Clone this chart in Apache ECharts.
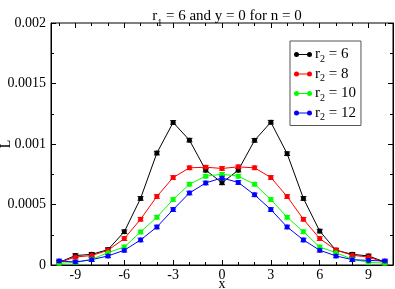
<!DOCTYPE html>
<html><head><meta charset="utf-8">
<script src="https://cdn.jsdelivr.net/npm/echarts@6/dist/echarts.min.js"></script>
<style>html,body{margin:0;padding:0;background:#fff}#c{width:395px;height:289px}</style>
</head><body><div id="c"></div>
<script>
const X = [-10,-9,-8,-7,-6,-5,-4,-3,-2,-1,0,1,2,3,4,5,6,7,8,9,10];
const R2_LABELS = ['6','8','10','12'];
const L_r6  = [0.000022,0.000078,0.000088,0.000127,0.000275,0.00055,0.000925,0.001178,0.001032,0.000784,0.000679,0.000784,0.00103,0.00118,0.00092,0.00055,0.00028,0.000122,0.000088,0.000075,0.000025];
const L_r8  = [0.00002,0.000066,0.000078,0.000122,0.000218,0.000378,0.000566,0.000723,0.000803,0.000808,0.000798,0.000811,0.000803,0.000723,0.000566,0.000378,0.000218,0.000124,0.00008,0.000066,0.00002];
const L_r10 = [0.000015,0.00002,0.000047,0.000102,0.000149,0.000273,0.000395,0.000541,0.000668,0.000734,0.00075,0.000734,0.000668,0.000541,0.000395,0.000275,0.000149,0.000102,0.000047,0.000022,0.000015];
const L_r12 = [0.000033,0.000025,0.000044,0.000075,0.000122,0.000207,0.000314,0.000458,0.000595,0.000678,0.00072,0.000682,0.00058,0.000458,0.000314,0.000207,0.000122,0.000075,0.000044,0.000038,0.000033];
const ERR = 0.000015;
const COLORS = ['#000000','#ff0000','#00ff00','#0000ff'];
const X_MAJOR = [-9,-6,-3,0,3,6,9];
const X_MINOR = X.filter(v => v % 3 !== 0);

const SERIES = [L_r6, L_r8, L_r10, L_r12];
const FONT = '"Liberation Serif", "Times New Roman", serif';
const chart = echarts.init(document.getElementById('c'), null, {renderer:'canvas'});

const legendIcon = 'path://M0,2.5 A2.5,2.5 0 1,1 5,2.5 A2.5,2.5 0 1,1 0,2.5 Z M13,2.5 A2.5,2.5 0 1,1 18,2.5 A2.5,2.5 0 1,1 13,2.5 Z M4,2 L14,2 L14,3 L4,3 Z';

const names = R2_LABELS.map(v => 'r2 = ' + v);
const series = [];
SERIES.forEach((arr, i) => {
  series.push({
    name: names[i], type: 'line', xAxisIndex: 0, yAxisIndex: 0,
    data: X.map((x, j) => [x, arr[j]]),
    symbol: 'circle', symbolSize: 5,
    lineStyle: {color: COLORS[i], width: 1},
    itemStyle: {color: COLORS[i]},
    animation: false, z: 3
  });
  series.push({
    name: names[i] + ' err', type: 'custom', xAxisIndex: 0, yAxisIndex: 0,
    data: X.map((x, j) => [x, arr[j] - ERR, arr[j] + ERR]),
    renderItem: function (params, api) {
      const lo = api.coord([api.value(0), api.value(1)]);
      const hi = api.coord([api.value(0), api.value(2)]);
      const w = 3;
      const st = {stroke: COLORS[i], lineWidth: 1};
      return {type: 'group', children: [
        {type: 'line', shape: {x1: lo[0], y1: lo[1], x2: hi[0], y2: hi[1]}, style: st},
        {type: 'line', shape: {x1: lo[0]-w, y1: lo[1], x2: lo[0]+w, y2: lo[1]}, style: st},
        {type: 'line', shape: {x1: hi[0]-w, y1: hi[1], x2: hi[0]+w, y2: hi[1]}, style: st}
      ]};
    },
    animation: false, z: 2, silent: true
  });
});

const xBase = {type: 'value', min: -10.5, max: 10.5, splitLine: {show: false}, axisLine: {show: false, onZero: false}};
const yBase = {type: 'value', min: 0, max: 0.002, interval: 0.0005, splitLine: {show: false}};

chart.setOption({
  animation: false,
  backgroundColor: '#fff',
  title: {
    text: '{a|r}{s|1}{a| = 6 and y = 0 for n = 0}',
    left: 222, textAlign: 'center', top: -1,
    textStyle: {fontWeight: 'normal', rich: {
      a: {fontFamily: FONT, fontSize: 15, fontWeight: 'normal', color: '#000', lineHeight: 20, verticalAlign: 'middle'},
      s: {fontFamily: FONT, fontSize: 10, fontWeight: 'normal', color: '#000', lineHeight: 24, verticalAlign: 'bottom'}
    }}
  },
  legend: {
    data: names, orient: 'vertical', left: 290, top: 41,
    backgroundColor: '#fff', borderColor: '#555', borderWidth: 1,
    padding: [6, 5, 3, 4], itemGap: 2.5, itemWidth: 18, itemHeight: 5,
    icon: legendIcon,
    formatter: function (n) { return '{a|r}{s|2}{a| = ' + n.split(' = ')[1] + '}'; },
    textStyle: {padding: [0,0,0,-2], rich: {
      a: {fontFamily: FONT, fontSize: 15, color: '#000', lineHeight: 17, verticalAlign: 'middle'},
      s: {fontFamily: FONT, fontSize: 10, color: '#000', lineHeight: 19, verticalAlign: 'bottom'}
    }}
  },
  grid: {left: 51, top: 23, width: 342, height: 242, containLabel: false, outerBoundsMode: 'none',
    show: true, borderColor: '#000', borderWidth: 1, backgroundColor: 'transparent'},
  xAxis: [
    Object.assign({}, xBase, {position: 'bottom', axisLine: {show: true, onZero: false, lineStyle: {color: '#000'}},
      name: 'x', nameLocation: 'middle', nameGap: 12, nameMoveOverlap: false,
      nameTextStyle: {fontFamily: FONT, fontSize: 14, color: '#000'},
      axisTick: {inside: true, length: 5, customValues: X_MAJOR, lineStyle: {color: '#000'}},
      axisLabel: {customValues: X_MAJOR, fontFamily: FONT, fontSize: 14, color: '#000', margin: 3}}),
    Object.assign({}, xBase, {position: 'bottom',
      axisTick: {inside: true, length: 3, customValues: X_MINOR, lineStyle: {color: '#000'}},
      axisLabel: {show: false}}),
    Object.assign({}, xBase, {position: 'top',
      axisTick: {inside: true, length: 5, customValues: X_MAJOR, lineStyle: {color: '#000'}},
      axisLabel: {show: false}}),
    Object.assign({}, xBase, {position: 'top',
      axisTick: {inside: true, length: 3, customValues: X_MINOR, lineStyle: {color: '#000'}},
      axisLabel: {show: false}})
  ],
  yAxis: [
    Object.assign({}, yBase, {position: 'left', axisLine: {show: true, onZero: false, lineStyle: {color: '#000'}},
      name: 'L', nameLocation: 'middle', nameGap: 38, nameMoveOverlap: false,
      nameTextStyle: {fontFamily: FONT, fontSize: 14, color: '#000'},
      axisTick: {show: true, inside: true, length: 5, lineStyle: {color: '#000'}},
      minorTick: {show: true, splitNumber: 2, length: 3, lineStyle: {color: '#000'}},
      axisLabel: {fontFamily: FONT, fontSize: 14, color: '#000', margin: 5,
        formatter: v => String(Number(v.toPrecision(6)))}}),
    Object.assign({}, yBase, {position: 'right', axisLine: {show: true, onZero: false, lineStyle: {color: '#000'}},
      axisTick: {show: true, inside: true, length: 5, lineStyle: {color: '#000'}},
      minorTick: {show: true, splitNumber: 2, length: 3, lineStyle: {color: '#000'}},
      axisLabel: {show: false}})
  ],
  series: series
});
</script>
</body></html>
